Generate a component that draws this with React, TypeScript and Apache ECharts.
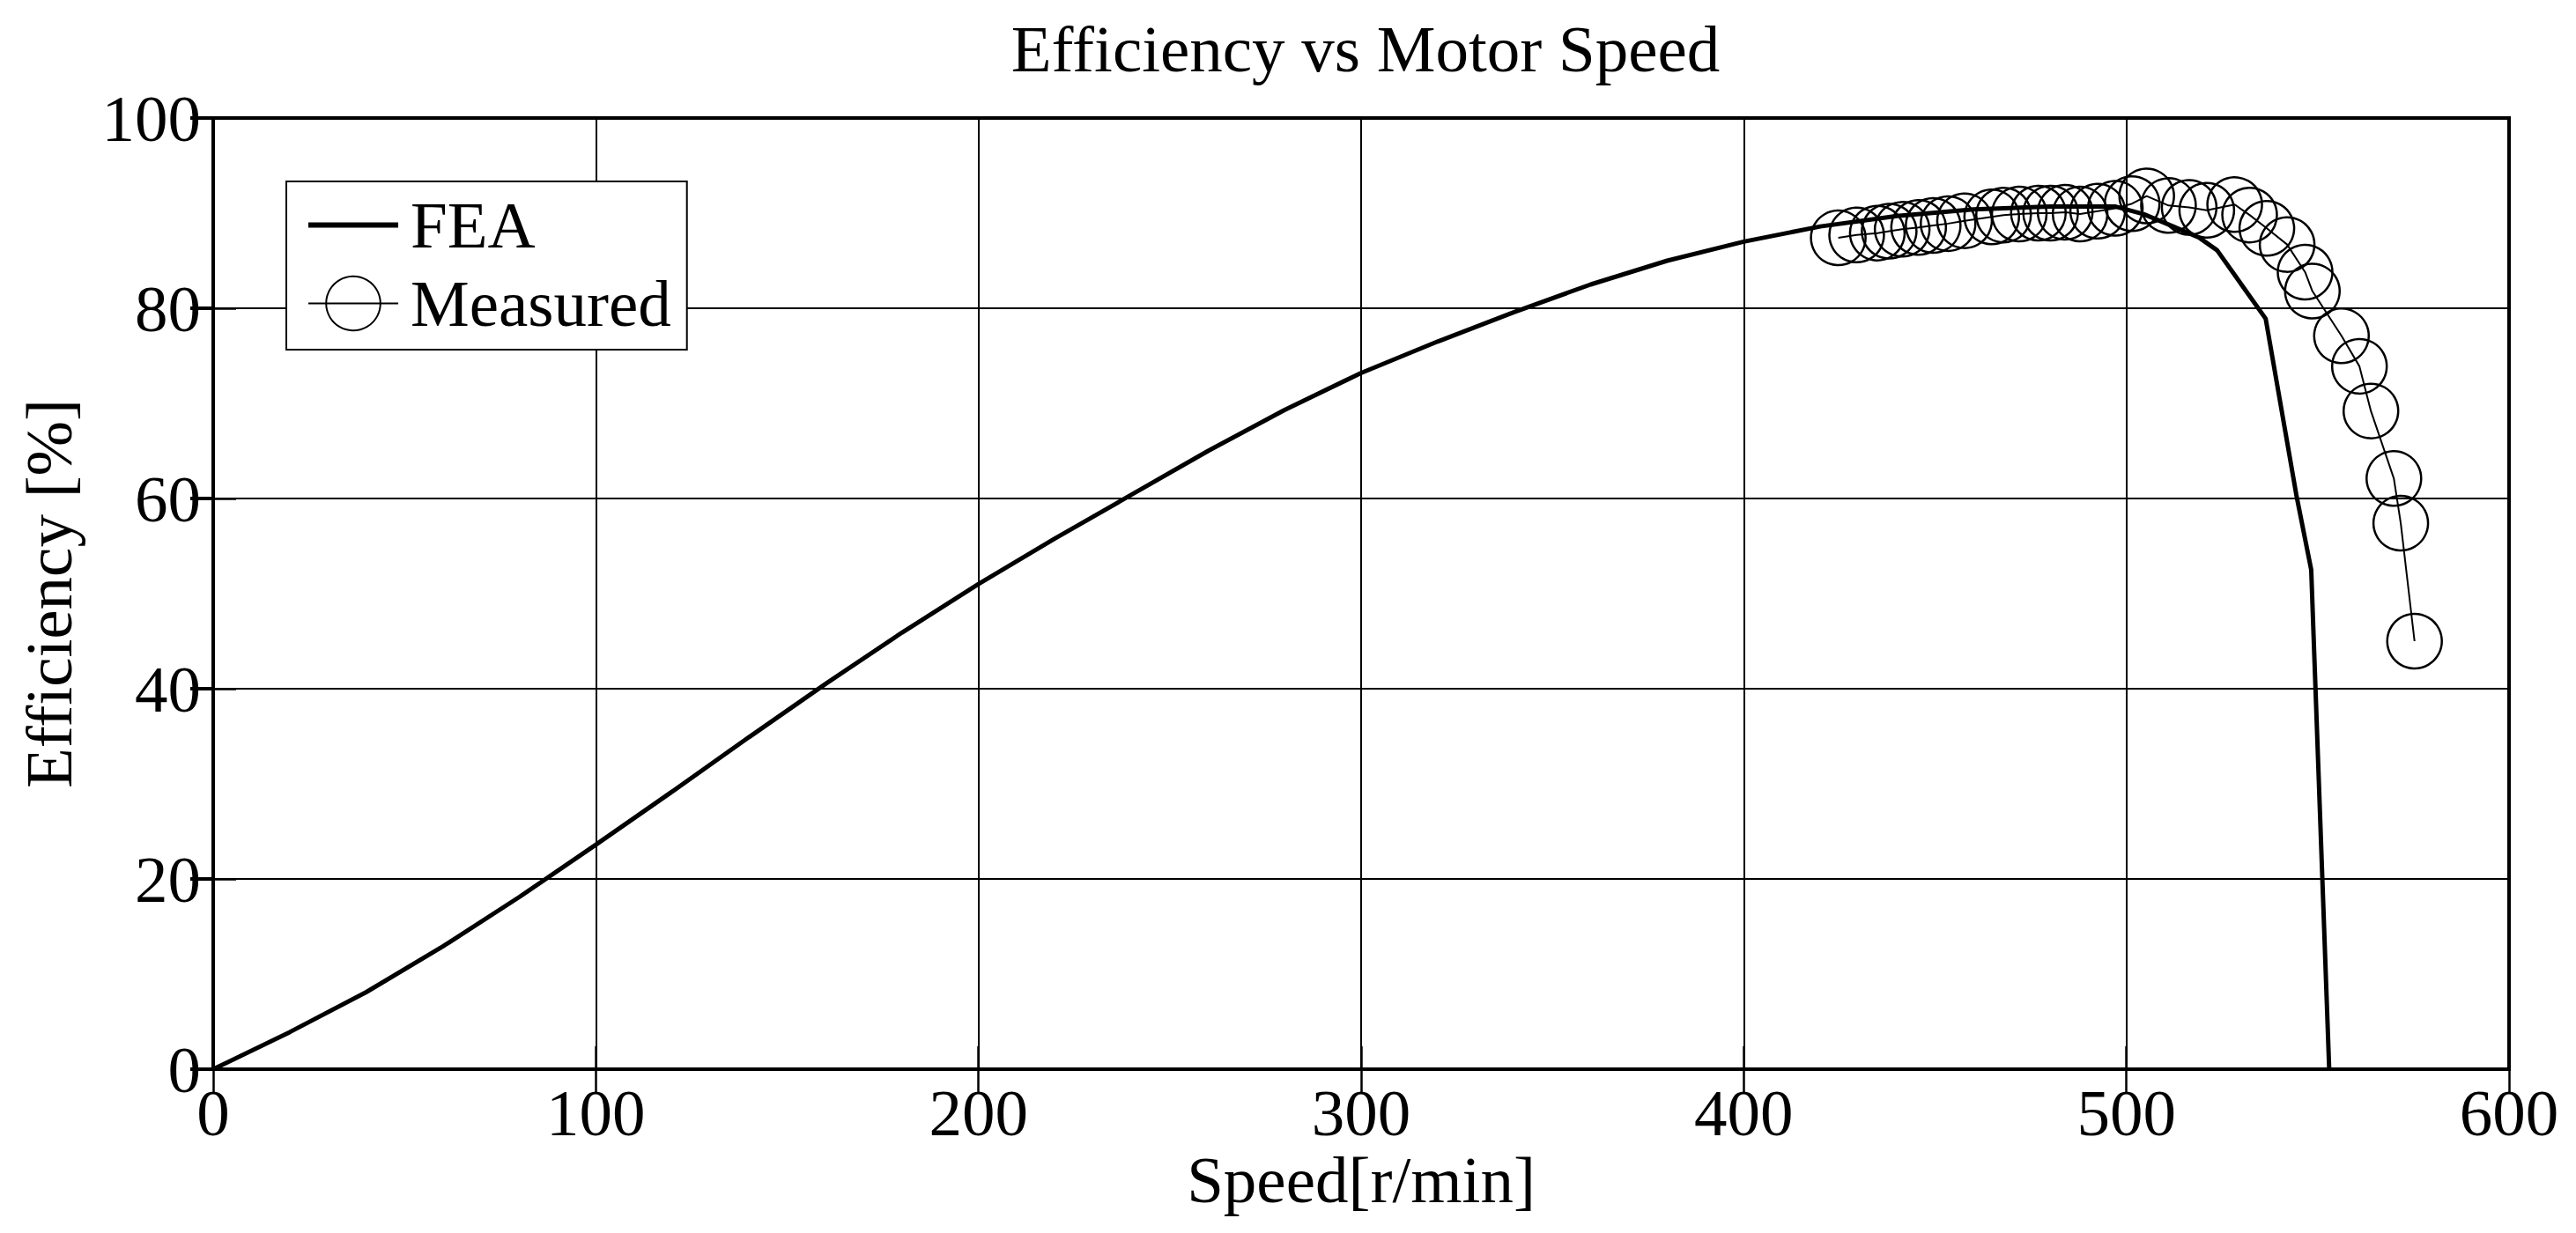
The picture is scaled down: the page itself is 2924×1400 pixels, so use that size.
import React, { useEffect, useRef } from "react";
import * as echarts from "echarts";

const FONT = "'Liberation Serif', 'Times New Roman', Times, serif";

const titleText = "Efficiency vs Motor Speed";
const xName = "Speed[r/min]";
const yName = "Efficiency [%]";
const legendNames = ["FEA", "Measured"];

// FEA curve
const feaSpeed = [
  0, 20, 40, 60, 80, 100, 120, 140, 160, 180, 200, 220, 240, 260, 280, 300,
  320, 340, 360, 380, 400, 420, 440, 460, 480, 497, 504.5, 512.2, 519.1, 523.7,
  536.4, 544.4, 548.3, 553,
];
const feaEff = [
  0, 3.9, 8.1, 12.9, 18.1, 23.6, 29.2, 34.9, 40.5, 45.9, 51.0, 55.8, 60.4,
  65.0, 69.3, 73.2, 76.5, 79.6, 82.5, 85.0, 87.0, 88.6, 89.7, 90.4, 90.7, 90.7,
  89.9, 88.6, 87.4, 86.1, 78.9, 60.4, 52.5, 0,
];

// Measured points
const measSpeed = [
  424.7, 429.5, 434.9, 438.0, 441.4, 445.7, 449.5, 453.4, 457.7, 464.8, 467.9,
  472.0, 477.0, 480.2, 484.0, 487.9, 492.5, 497.1, 501.5, 505.3, 511.0, 516.4,
  521.0, 528.3, 532.2, 536.7, 542.0, 546.7, 548.6, 556.2, 560.9, 563.9, 569.9,
  571.7, 575.3,
];
const measEff = [
  87.4, 87.7, 87.9, 88.1, 88.3, 88.5, 88.7, 88.9, 89.2, 89.6, 89.8, 89.9, 90.0,
  90.0, 90.1, 89.9, 90.2, 90.5, 91.0, 91.8, 90.8, 90.6, 90.3, 90.9, 89.8, 88.4,
  86.7, 83.8, 81.8, 77.1, 73.9, 69.2, 62.1, 57.4, 45.0,
];

const X_MIN = 0;
const X_MAX = 600;
const X_STEP = 100;
const Y_MIN = 0;
const Y_MAX = 100;
const Y_STEP = 20;

export default function App() {
  const ref = useRef<HTMLDivElement>(null);

  useEffect(() => {
    if (!ref.current) return;
    const chart = echarts.init(ref.current, null, { renderer: "svg" });

    const axisLine = { show: true, lineStyle: { color: "#000", width: 4 } };
    const axisTick = {
      show: true,
      inside: true,
      length: 26,
      lineStyle: { color: "#000", width: 2.5 },
    };
    const labelStyle = {
      fontFamily: FONT,
      fontSize: 75,
      color: "#000",
    };

    chart.setOption({
      animation: false,
      backgroundColor: "#fff",
      title: {
        text: titleText,
        left: 1545,
        top: 13,
        textAlign: "center",
        textStyle: {
          fontFamily: FONT,
          fontSize: 75,
          fontWeight: "normal",
          color: "#000",
        },
      },
      grid: {
        left: 242,
        right: 76,
        top: 134,
        bottom: 186,
        show: true,
        borderColor: "#000",
        borderWidth: 4,
        backgroundColor: "transparent",
      },
      legend: {
        orient: "vertical",
        left: 325,
        top: 206,
        padding: [12, 18, 15, 22],
        itemWidth: 102,
        itemHeight: 77,
        itemGap: 14,
        borderColor: "#000",
        borderWidth: 2,
        backgroundColor: "#fff",
        textStyle: {
          fontFamily: FONT,
          fontSize: 75,
          color: "#000",
          padding: [0, 0, 0, 9],
        },
        data: [
          {
            name: legendNames[0],
            itemStyle: { opacity: 0 },
            lineStyle: { color: "#000", width: 6 },
          },
          {
            name: legendNames[1],
            lineStyle: { color: "#000", width: 2 },
          },
        ],
      },
      xAxis: [
        {
          type: "value",
          min: X_MIN,
          max: X_MAX,
          interval: X_STEP,
          position: "bottom",
          axisLine,
          axisTick,
          axisLabel: { ...labelStyle, margin: 12 },
          splitLine: { show: true, lineStyle: { color: "#000", width: 2 } },
        },
        {
          type: "value",
          min: X_MIN,
          max: X_MAX,
          interval: X_STEP,
          position: "top",
          axisLine,
          axisTick,
          axisLabel: { show: false },
          splitLine: { show: false },
        },
      ],
      yAxis: [
        {
          type: "value",
          min: Y_MIN,
          max: Y_MAX,
          interval: Y_STEP,
          position: "left",
          axisLine,
          axisTick,
          axisLabel: { ...labelStyle, margin: 14 },
          splitLine: { show: true, lineStyle: { color: "#000", width: 2 } },
        },
        {
          type: "value",
          min: Y_MIN,
          max: Y_MAX,
          interval: Y_STEP,
          position: "right",
          axisLine,
          axisTick: { ...axisTick, lineStyle: { color: "#000", width: 4 } },
          axisLabel: { show: false },
          splitLine: { show: false },
        },
      ],
      graphic: [
        {
          type: "text",
          x: 55,
          y: 674,
          rotation: Math.PI / 2,
          style: {
            text: yName,
            fontFamily: FONT,
            fontSize: 75,
            fill: "#000",
            align: "center",
            verticalAlign: "middle",
            textAlign: "center",
            textVerticalAlign: "middle",
          },
        },
        {
          type: "text",
          x: 1545,
          y: 1339,
          style: {
            text: xName,
            fontFamily: FONT,
            fontSize: 75,
            fill: "#000",
            align: "center",
            verticalAlign: "middle",
            textAlign: "center",
            textVerticalAlign: "middle",
          },
        },
      ],
      series: [
        {
          name: legendNames[0],
          type: "line",
          xAxisIndex: 0,
          yAxisIndex: 0,
          data: feaSpeed.map((s, i) => [s, feaEff[i]]),
          symbol: "none",
          lineStyle: { color: "#000", width: 5 },
          itemStyle: { color: "#000" },
          z: 3,
        },
        {
          name: legendNames[1],
          type: "line",
          xAxisIndex: 0,
          yAxisIndex: 0,
          data: measSpeed.map((s, i) => [s, measEff[i]]),
          symbol: "circle",
          symbolSize: 62,
          showSymbol: true,
          showAllSymbol: true,
          lineStyle: { color: "#000", width: 2 },
          itemStyle: {
            color: "rgba(0,0,0,0)",
            borderColor: "#000",
            borderWidth: 2.5,
          },
          z: 4,
        },
      ],
    });

    return () => chart.dispose();
  }, []);

  return (
    <div
      ref={ref}
      style={{
        position: "fixed",
        left: 0,
        top: 0,
        width: 2924,
        height: 1400,
        background: "#fff",
      }}
    />
  );
}
